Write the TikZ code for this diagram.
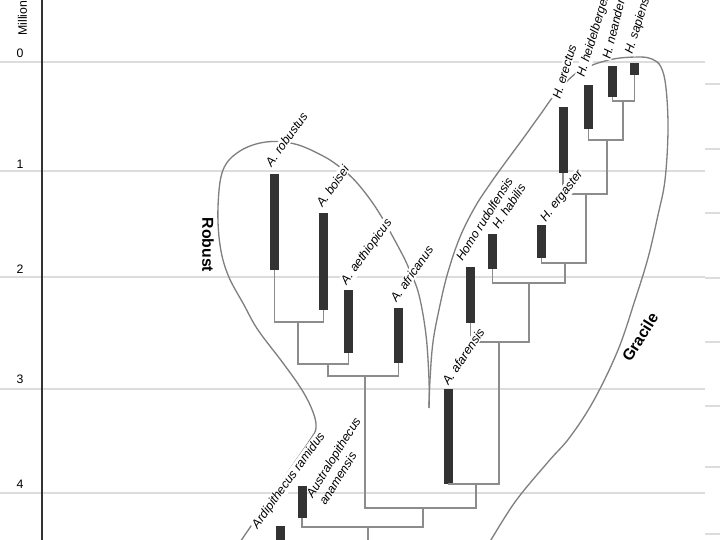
\documentclass[tikz,border=0pt]{standalone}
\usepackage{fontspec}
\setmainfont{Liberation Sans}

\definecolor{barfill}{HTML}{333333}
\definecolor{branchgray}{HTML}{8C8C8C}
\definecolor{cladegray}{HTML}{7F7F7F}
\definecolor{gridgray}{HTML}{DCDCDC}

\tikzset{
  taxonbar/.style={rectangle, fill=barfill, inner sep=0pt, minimum width=0.18cm},
  branch/.style={draw=branchgray, line width=1.1pt},
  clade/.style={draw=cladegray, line width=0.75pt},
  taxonlabel/.style={font=\fontsize{7}{8.5}\selectfont\itshape, anchor=base west, fill=white, inner sep=0.5pt},
  cladelabel/.style={font=\fontsize{9}{10}\selectfont\bfseries},
  agelabel/.style={font=\fontsize{7}{8}\selectfont}
}

\begin{document}
\begin{tikzpicture}[x=0.02cm, y=-0.02cm]

\useasboundingbox (0,0) rectangle (720,540);

\begin{scope}[gridgray, line width=0.8pt]
\draw (0,62) -- (705,62);
\draw (0,171) -- (705,171);
\draw (0,277) -- (705,277);
\draw (0,389) -- (705,389);
\draw (0,493) -- (705,493);
\draw (705,84) -- (720,84);
\draw (705,149) -- (720,149);
\draw (705,213) -- (720,213);
\draw (705,278) -- (720,278);
\draw (705,342) -- (720,342);
\draw (705,406) -- (720,406);
\draw (705,467) -- (720,467);
\draw (705,534) -- (720,534);
\end{scope}

\draw [barfill, line width=0.6pt] (42,0) -- (42,540);

\node [agelabel] (age0) at (20,53) {0};
\node [agelabel] (age1) at (20,164) {1};
\node [agelabel] (age2) at (20,269) {2};
\node [agelabel] (age3) at (20,379) {3};
\node [agelabel] (age4) at (20,484) {4};
\node [agelabel, rotate=90, anchor=base west, inner sep=0pt] (unit) at (27,36) {Millions};

% clade outlines
\draw [clade] plot [smooth, tension=0.6] coordinates {(238,545) (262,510) (290,469) (310,440) (316,428) (313,412) (302,390) (283,363) (258,330) (244,305) (228,275) (220,245) (218,207) (223,170) (240,151) (266,142) (295,144) (323,156) (341,168) (358,184) (378,211) (400,250) (410,271) (419,295) (426,335) (429,380) (429,408)};
\draw [clade] plot [smooth, tension=0.6] coordinates {(429,408) (430,380) (433,342) (440,305) (448,272) (460,237) (475,207) (490,184) (505,163) (522,140) (540,115) (556,93) (575,74) (590,66) (605,61) (620,58) (640,57) (652,59) (661,67) (666,88) (668,130) (665,180) (658,215) (648,258) (635,300) (618,350) (594,400) (570,437) (548,462) (515,502) (488,545)};

\node [cladelabel, rotate=-90] (robust) at (208,245) {Robust};
\node [cladelabel, rotate=58] (gracile) at (640,337) {Gracile};

% species
\node [taxonbar, minimum height=0.68cm] (ramidus) at (280.5,543) {};
\node [taxonbar, minimum height=0.64cm] (anamensis) at (302,502) {};
\node [taxonbar, minimum height=1.92cm] (robustus) at (274.5,222) {};
\node [taxonbar, minimum height=1.94cm] (boisei) at (323.5,261.5) {};
\node [taxonbar, minimum height=1.26cm] (aethiopicus) at (348.5,321.5) {};
\node [taxonbar, minimum height=1.10cm] (africanus) at (398.5,335.5) {};
\node [taxonbar, minimum height=1.90cm] (afarensis) at (448.5,436.5) {};
\node [taxonbar, minimum height=1.12cm] (rudolfensis) at (470.5,295) {};
\node [taxonbar, minimum height=0.70cm] (habilis) at (492.5,251.5) {};
\node [taxonbar, minimum height=0.66cm] (ergaster) at (541.5,241.5) {};
\node [taxonbar, minimum height=1.32cm] (erectus) at (563,140) {};
\node [taxonbar, minimum height=0.88cm] (heidelbergensis) at (588.5,107) {};
\node [taxonbar, minimum height=0.62cm] (neanderthalensis) at (612.5,81.5) {};
\node [taxonbar, minimum height=0.24cm] (sapiens) at (634.5,69) {};

% branch points
\coordinate (rb) at (298,322);
\coordinate (rba) at (328,364);
\coordinate (rbb) at (365,376);
\coordinate (ns) at (623,101);
\coordinate (hn) at (607,140);
\coordinate (eh) at (586,194);
\coordinate (ee) at (565,263);
\coordinate (he) at (529,283);
\coordinate (hj) at (499,342);
\coordinate (ga) at (476,484);
\coordinate (ar) at (423,508);
\coordinate (aj) at (368,527);
\coordinate (root) at (368,545);

\draw [branch] (robustus.south) |- (rb) -| (boisei.south);
\draw [branch] (rb) |- (rba) -| (aethiopicus.south);
\draw [branch] (rba) |- (rbb) -| (africanus.south);
\draw [branch] (rbb) |- (ar) -| (ga);
\draw [branch] (neanderthalensis.south) |- (ns) -| (sapiens.south);
\draw [branch] (heidelbergensis.south) |- (hn) -| (ns);
\draw [branch] (erectus.south) |- (eh) -| (hn);
\draw [branch] (ergaster.south) |- (ee) -| (eh);
\draw [branch] (habilis.south) |- (he) -| (ee);
\draw [branch] (rudolfensis.south) |- (hj) -| (he);
\draw [branch] (afarensis.south) |- (ga) -| (hj);
\draw [branch] (anamensis.south) |- (aj) -| (ar);
\draw [branch] (aj) -- (root);

% names
\node [taxonlabel, rotate=54] (ramiduslab) at (257,530) {Ardipithecus ramidus};
\node [taxonlabel, rotate=58, align=left, fill=none] (anamensislab) at (325,507) {Australopithecus\\anamensis};
\node [taxonlabel, rotate=54] (robustuslab) at (271,168) {A. robustus};
\node [taxonlabel, rotate=55] (boiseilab) at (322,209) {A. boisei};
\node [taxonlabel, rotate=54] (aethiopicuslab) at (346,286) {A. aethiopicus};
\node [taxonlabel, rotate=55] (africanuslab) at (396,304) {A. africanus};
\node [taxonlabel, rotate=56] (afarensislab) at (448,387) {A. afarensis};
\node [taxonlabel, rotate=58] (rudolfensislab) at (462,263) {Homo rudolfensis};
\node [taxonlabel, rotate=57] (habilislab) at (498,231) {H. habilis};
\node [taxonlabel, rotate=52] (ergasterlab) at (545,223) {H. ergaster};
\node [taxonlabel, rotate=73] (erectuslab) at (560,101) {H. erectus};
\node [taxonlabel, rotate=73] (heidelbergensislab) at (584,79) {H. heidelbergensis};
\node [taxonlabel, rotate=76] (neanderthalensislab) at (610,61) {H. neanderthalensis};
\node [taxonlabel, rotate=73] (sapienslab) at (632,56) {H. sapiens};

\end{tikzpicture}
\end{document}
